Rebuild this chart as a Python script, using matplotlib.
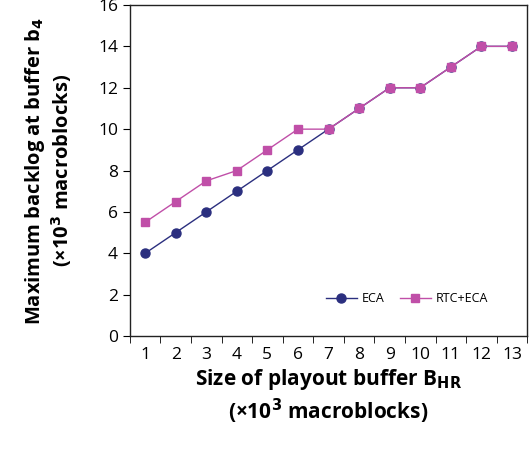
import numpy as np
import matplotlib.pyplot as plt

plt.rcParams['font.family'] = ['Open Sans', 'DejaVu Sans']

# buffer sizes (x10^3 macroblocks)
buffer_size = [1, 2, 3, 4, 5, 6, 7, 8, 9, 10, 11, 12, 13]
eca = [4, 5, 6, 7, 8, 9, 10, 11, 12, 12, 13, 14, 14]
rtc_eca = [5.5, 6.5, 7.5, 8, 9, 10, 10, 11, 12, 12, 13, 14, 14]

fig = plt.figure(figsize=(5.32, 4.5), dpi=100)
ax = fig.add_axes([0.244, 0.253, 0.747, 0.736])

ax.plot(buffer_size, eca, color='#2b2f7f', marker='o', markersize=6.5,
        linewidth=1, label='ECA')
ax.plot(buffer_size, rtc_eca, color='#c04fa8', marker='s', markersize=5.5,
        linewidth=1, label='RTC+ECA')

ax.set_xlim(0.5, 13.5)
ax.set_ylim(0, 16)
ax.set_yticks(np.arange(0, 17, 2))
ax.set_xticks(buffer_size)
ax.set_xticks(np.arange(0.5, 14, 1), minor=True)
ax.tick_params(axis='x', which='major', length=0, pad=8, labelsize=12.5)
ax.tick_params(axis='x', which='minor', length=5, direction='out')
ax.tick_params(axis='y', length=5, direction='out', labelsize=12.5)

for s in ax.spines.values():
    s.set_linewidth(1)
    s.set_color('#222222')

ax.set_xlabel('Size of playout buffer B$_{\\mathbf{HR}}$\n(×10$^{\\mathbf{3}}$ macroblocks)',
              fontsize=15, fontweight='bold', labelpad=3, linespacing=1.2)
ax.set_ylabel('Maximum backlog at buffer b$_{\\mathbf{4}}$\n(×10$^{\\mathbf{3}}$ macroblocks)',
              fontsize=14.5, fontweight='bold', labelpad=17, linespacing=1.15)

ax.legend(loc='lower right', bbox_to_anchor=(0.93, 0.06), frameon=False,
          fontsize=9, ncol=2, handlelength=2.5, columnspacing=1.2, handletextpad=0.4)

plt.savefig('out.png', dpi=100)
